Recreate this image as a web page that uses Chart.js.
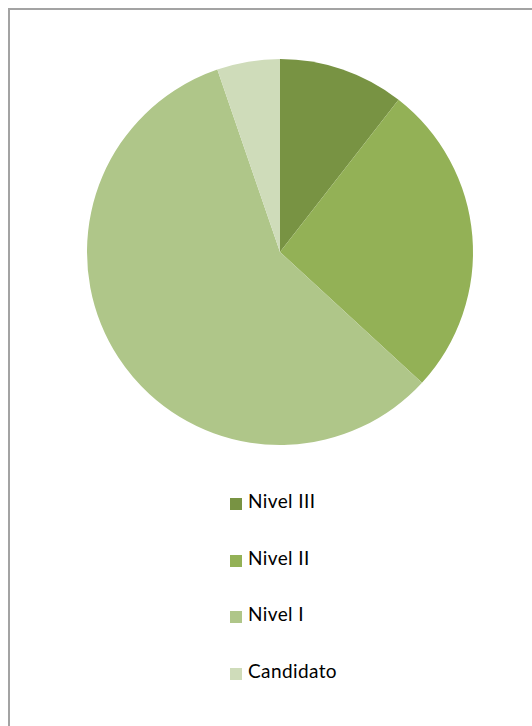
<!DOCTYPE html>
<html>
<head>
<meta charset="utf-8">
<script src="https://cdn.jsdelivr.net/npm/chart.js@4"></script>
<style>
  html, body { margin: 0; padding: 0; background: #fff; }
  body { width: 532px; height: 726px; position: relative; overflow: hidden; }
  #frame {
    position: absolute; left: 8px; top: 8px; width: 700px; height: 800px;
    border-top: 2px solid #a3a3a3; border-left: 2px solid #a3a3a3;
  }
  #wrap { position: absolute; left: 0; top: 0; width: 532px; height: 460px; }
  #legend {
    position: absolute; left: 230px; top: 489px;
    font-family: Lato, "Open Sans", sans-serif; font-size: 19px; letter-spacing: 0.4px; color: #000;
  }
  #legend .item { height: 56.5px; display: flex; align-items: flex-start; }
  #legend .box { width: 12px; height: 12px; margin-top: 9px; margin-right: 6px; }
</style>
</head>
<body>
<div id="frame"></div>
<div id="wrap"><canvas id="chart"></canvas></div>
<div id="legend"></div>
<script>
// datos (niveles)
const labels = ['Nivel III', 'Nivel II', 'Nivel I', 'Candidato'];
const values = [2, 5, 11, 1];
const colors = ['#789343', '#93B156', '#AFC689', '#CFDCBA'];

const chart = new Chart(document.getElementById('chart'), {
  type: 'pie',
  data: {
    labels: labels,
    datasets: [{
      data: values,
      backgroundColor: colors,
      borderWidth: 0
    }]
  },
  options: {
    responsive: true,
    maintainAspectRatio: false,
    animation: false,
    layout: { padding: { left: 87, right: 59, top: 59, bottom: 15 } },
    plugins: {
      legend: { display: false },
      tooltip: { enabled: false }
    }
  }
});

// leyenda vertical a partir de los datos del gráfico
const legendEl = document.getElementById('legend');
chart.data.labels.forEach((lab, i) => {
  const item = document.createElement('div');
  item.className = 'item';
  const box = document.createElement('span');
  box.className = 'box';
  box.style.background = chart.data.datasets[0].backgroundColor[i];
  const txt = document.createElement('span');
  txt.textContent = lab;
  item.appendChild(box);
  item.appendChild(txt);
  legendEl.appendChild(item);
});
</script>
</body>
</html>
